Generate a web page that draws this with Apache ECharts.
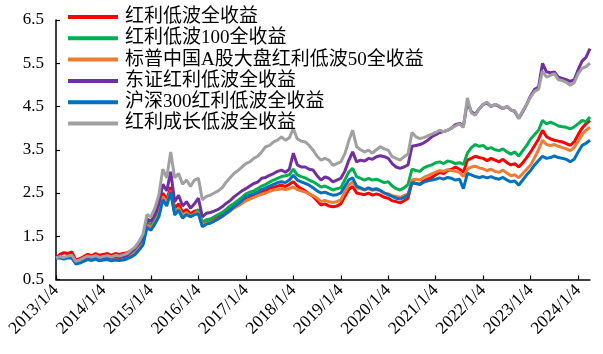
<!DOCTYPE html>
<html><head><meta charset="utf-8">
<script src="https://cdn.jsdelivr.net/npm/echarts@6/dist/echarts.min.js"></script>
<style>html,body{margin:0;padding:0;background:#fff}#c{width:603px;height:354px}</style>
</head><body><div id="c"></div>
<script>
// tick labels on the x axis (one per year)
const tickLabels = ["2013/1/4","2014/1/4","2015/1/4","2016/1/4","2017/1/4","2018/1/4","2019/1/4","2020/1/4","2021/1/4","2022/1/4","2023/1/4","2024/1/4"];
const seriesNames = ["红利低波全收益","红利低波100全收益","标普中国A股大盘红利低波50全收益","东证红利低波全收益","沪深300红利低波全收益","红利成长低波全收益"];

const red = [
1.00,1.08,1.12,1.10,1.14,0.95,0.98,1.03,1.08,1.05,1.10,1.06,
1.08,1.10,1.06,1.10,1.08,1.10,1.12,1.16,1.22,1.30,1.42,1.82,
1.76,1.90,2.10,2.50,2.35,2.64,2.15,2.25,2.05,2.12,2.02,2.08,
2.10,1.78,1.82,1.84,1.90,1.94,1.98,2.05,2.12,2.18,2.22,2.30,
2.36,2.40,2.44,2.48,2.52,2.55,2.60,2.63,2.66,2.68,2.65,2.70,
2.76,2.66,2.60,2.55,2.48,2.42,2.32,2.22,2.25,2.20,2.18,2.20,
2.25,2.42,2.58,2.65,2.50,2.48,2.46,2.50,2.45,2.48,2.45,2.40,
2.38,2.32,2.30,2.27,2.32,2.38,2.75,2.72,2.70,2.78,2.82,2.86,
2.92,2.98,2.95,3.02,3.05,3.10,3.05,2.98,3.26,3.30,3.35,3.32,
3.30,3.25,3.30,3.26,3.22,3.28,3.20,3.15,3.18,3.10,3.20,3.32,
3.45,3.60,3.75,3.95,3.80,3.75,3.72,3.70,3.68,3.64,3.60,3.68,
3.85,4.00,4.10,4.18];
const green = [
1.00,1.02,1.00,1.03,1.03,0.90,0.93,0.97,1.01,0.99,1.02,0.98,
1.00,1.01,0.99,1.01,1.00,1.01,1.04,1.10,1.16,1.26,1.40,1.80,
1.75,1.88,2.05,2.40,2.30,2.50,2.05,2.15,1.98,2.05,1.95,2.02,
2.12,1.82,1.88,1.90,1.95,2.00,2.05,2.12,2.20,2.26,2.33,2.40,
2.48,2.52,2.55,2.60,2.66,2.70,2.75,2.80,2.84,2.88,2.90,2.92,
3.05,2.92,2.88,2.85,2.80,2.76,2.70,2.64,2.66,2.62,2.57,2.60,
2.62,2.80,2.98,3.07,2.88,2.84,2.80,2.84,2.80,2.82,2.78,2.74,
2.76,2.66,2.60,2.57,2.62,2.70,3.05,3.02,3.00,3.08,3.12,3.15,
3.20,3.22,3.18,3.24,3.22,3.18,3.20,3.16,3.42,3.55,3.62,3.58,
3.60,3.52,3.55,3.50,3.48,3.52,3.45,3.40,3.45,3.35,3.48,3.60,
3.75,3.85,3.95,4.18,4.10,4.14,4.10,4.05,4.03,4.02,3.98,4.03,
4.10,4.18,4.15,4.26];
const orange = [
1.00,1.01,0.99,1.02,1.02,0.88,0.91,0.95,0.99,0.97,1.00,0.96,
0.98,0.99,0.96,0.98,0.97,0.98,1.01,1.06,1.12,1.22,1.36,1.76,
1.70,1.82,2.00,2.42,2.28,2.55,2.05,2.15,1.98,2.05,1.96,2.02,
2.05,1.75,1.80,1.82,1.86,1.90,1.95,2.02,2.08,2.15,2.20,2.26,
2.32,2.36,2.40,2.44,2.47,2.50,2.54,2.57,2.58,2.60,2.58,2.60,
2.64,2.58,2.55,2.52,2.48,2.44,2.38,2.30,2.33,2.30,2.28,2.30,
2.34,2.52,2.68,2.76,2.62,2.60,2.57,2.60,2.56,2.58,2.55,2.50,
2.48,2.44,2.42,2.40,2.44,2.48,2.80,2.82,2.80,2.86,2.90,2.94,
2.98,3.02,3.00,3.04,3.02,3.00,2.98,2.88,3.05,3.10,3.12,3.08,
3.06,3.02,3.05,3.00,2.98,3.03,2.96,2.90,2.92,2.85,2.95,3.05,
3.15,3.32,3.50,3.72,3.62,3.60,3.62,3.58,3.55,3.52,3.48,3.55,
3.70,3.85,3.95,4.02];
const purple = [
1.00,1.02,1.00,1.03,1.04,0.91,0.94,0.98,1.02,1.00,1.03,0.99,
1.01,1.02,1.00,1.03,1.01,1.03,1.06,1.14,1.22,1.33,1.48,1.90,
1.85,2.00,2.25,2.70,2.55,2.99,2.30,2.45,2.20,2.30,2.15,2.25,
2.38,1.95,2.03,2.05,2.08,2.12,2.18,2.26,2.32,2.41,2.48,2.55,
2.60,2.66,2.72,2.75,2.84,2.86,2.91,2.95,3.00,3.03,2.98,3.05,
3.42,3.15,3.10,3.10,3.05,3.03,2.90,2.80,2.87,2.84,2.76,2.80,
2.84,3.00,3.25,3.45,3.22,3.26,3.24,3.30,3.28,3.34,3.36,3.34,
3.30,3.18,3.10,3.07,3.10,3.15,3.58,3.60,3.62,3.66,3.72,3.80,
3.85,3.90,3.92,3.95,4.00,4.08,4.11,4.05,4.60,4.38,4.32,4.45,
4.55,4.58,4.50,4.55,4.50,4.45,4.50,4.42,4.38,4.22,4.38,4.55,
4.75,4.90,4.95,5.50,5.30,5.28,5.30,5.18,5.15,5.12,5.08,5.12,
5.35,5.55,5.64,5.84];
const blue = [
1.00,1.00,0.97,1.00,1.00,0.86,0.88,0.92,0.96,0.94,0.97,0.93,
0.95,0.96,0.93,0.95,0.94,0.95,0.98,1.02,1.08,1.18,1.30,1.70,
1.64,1.78,1.95,2.34,2.20,2.53,1.99,2.10,1.92,2.00,1.95,2.00,
2.02,1.72,1.78,1.80,1.85,1.90,1.96,2.03,2.10,2.18,2.25,2.32,
2.42,2.45,2.48,2.52,2.58,2.62,2.66,2.70,2.74,2.76,2.74,2.80,
2.91,2.80,2.76,2.72,2.68,2.62,2.55,2.50,2.52,2.48,2.45,2.46,
2.50,2.65,2.80,2.85,2.66,2.62,2.58,2.62,2.58,2.60,2.56,2.50,
2.46,2.42,2.38,2.36,2.40,2.45,2.74,2.72,2.70,2.75,2.78,2.80,
2.82,2.85,2.82,2.86,2.84,2.80,2.82,2.60,2.95,2.92,2.88,2.86,
2.88,2.85,2.88,2.84,2.82,2.86,2.80,2.76,2.78,2.68,2.80,2.92,
3.02,3.15,3.25,3.35,3.30,3.32,3.36,3.32,3.30,3.28,3.22,3.28,
3.45,3.60,3.65,3.72];
const gray = [
1.00,1.03,1.01,1.04,1.06,0.92,0.95,1.00,1.04,1.02,1.05,1.01,
1.03,1.05,1.02,1.06,1.04,1.07,1.10,1.18,1.25,1.38,1.55,2.00,
1.95,2.15,2.45,3.05,2.85,3.45,2.85,2.95,2.70,2.80,2.65,2.80,
2.84,2.34,2.42,2.45,2.50,2.55,2.62,2.75,2.85,2.95,3.02,3.10,
3.18,3.22,3.30,3.35,3.45,3.57,3.60,3.68,3.72,3.80,3.72,3.78,
3.99,3.75,3.70,3.68,3.60,3.49,3.35,3.26,3.30,3.26,3.14,3.18,
3.22,3.40,3.70,3.95,3.57,3.50,3.45,3.49,3.42,3.50,3.57,3.52,
3.49,3.34,3.30,3.26,3.34,3.40,3.90,3.80,3.76,3.78,3.82,3.86,
3.90,3.95,3.92,3.95,4.00,4.05,4.10,4.02,4.70,4.35,4.30,4.45,
4.55,4.60,4.50,4.55,4.52,4.45,4.50,4.42,4.40,4.23,4.40,4.55,
4.72,4.85,4.90,5.32,5.18,5.22,5.26,5.12,5.10,5.06,4.99,5.05,
5.26,5.38,5.42,5.50];

const colors = ["#FF0000","#00B050","#ED7D31","#7030A0","#0070C0","#A0A0A0"];

// monthly date categories
const dates = [];
for (let y = 2013; y <= 2024; y++) {
  for (let m = 1; m <= 12; m++) {
    if (y === 2024 && m > 4) break;
    dates.push(y + "/" + m + "/4");
  }
}
const isTick = (idx, val) => tickLabels.indexOf(val) >= 0;
const FONT = "'Liberation Serif','Times New Roman','Noto Sans CJK SC',serif";
const values = [red, green, orange, purple, blue, gray];

const chart = echarts.init(document.getElementById('c'), null, {renderer: 'canvas'});
chart.setOption({
  animation: false,
  backgroundColor: '#fff',
  color: colors,
  grid: {left: 56, right: 13, top: 20, bottom: 74.5, containLabel: false},
  legend: {
    orient: 'vertical', left: 68, top: 7.5, padding: 0,
    itemWidth: 50, itemHeight: 4, itemGap: 2.3, icon: 'rect',
    textStyle: {fontFamily: FONT, fontSize: 19, color: '#000', lineHeight: 19, padding: [0, 0, 0, 2]},
    data: seriesNames
  },
  xAxis: {
    type: 'category', data: dates, boundaryGap: false,
    axisLine: {lineStyle: {color: '#000', width: 1.5}},
    axisTick: {inside: true, length: 4, interval: isTick, lineStyle: {color: '#000', width: 1.2}},
    axisLabel: {interval: isTick, rotate: 45, margin: 8, fontFamily: FONT, fontSize: 17.5, color: '#000'},
    splitLine: {show: false}
  },
  yAxis: {
    type: 'value', min: 0.5, max: 6.5, interval: 1,
    axisLine: {show: true, lineStyle: {color: '#000', width: 1.5}},
    axisTick: {show: true, inside: true, length: 4, lineStyle: {color: '#000', width: 1.2}},
    axisLabel: {margin: 12, fontFamily: FONT, fontSize: 17, color: '#000', formatter: v => v.toFixed(1)},
    splitLine: {show: false}
  },
  series: seriesNames.map((n, k) => ({
    name: n, type: 'line', data: values[k], showSymbol: false, symbol: 'none',
    lineStyle: {width: 3, color: colors[k]}, itemStyle: {color: colors[k]}
  }))
});
</script></body></html>
